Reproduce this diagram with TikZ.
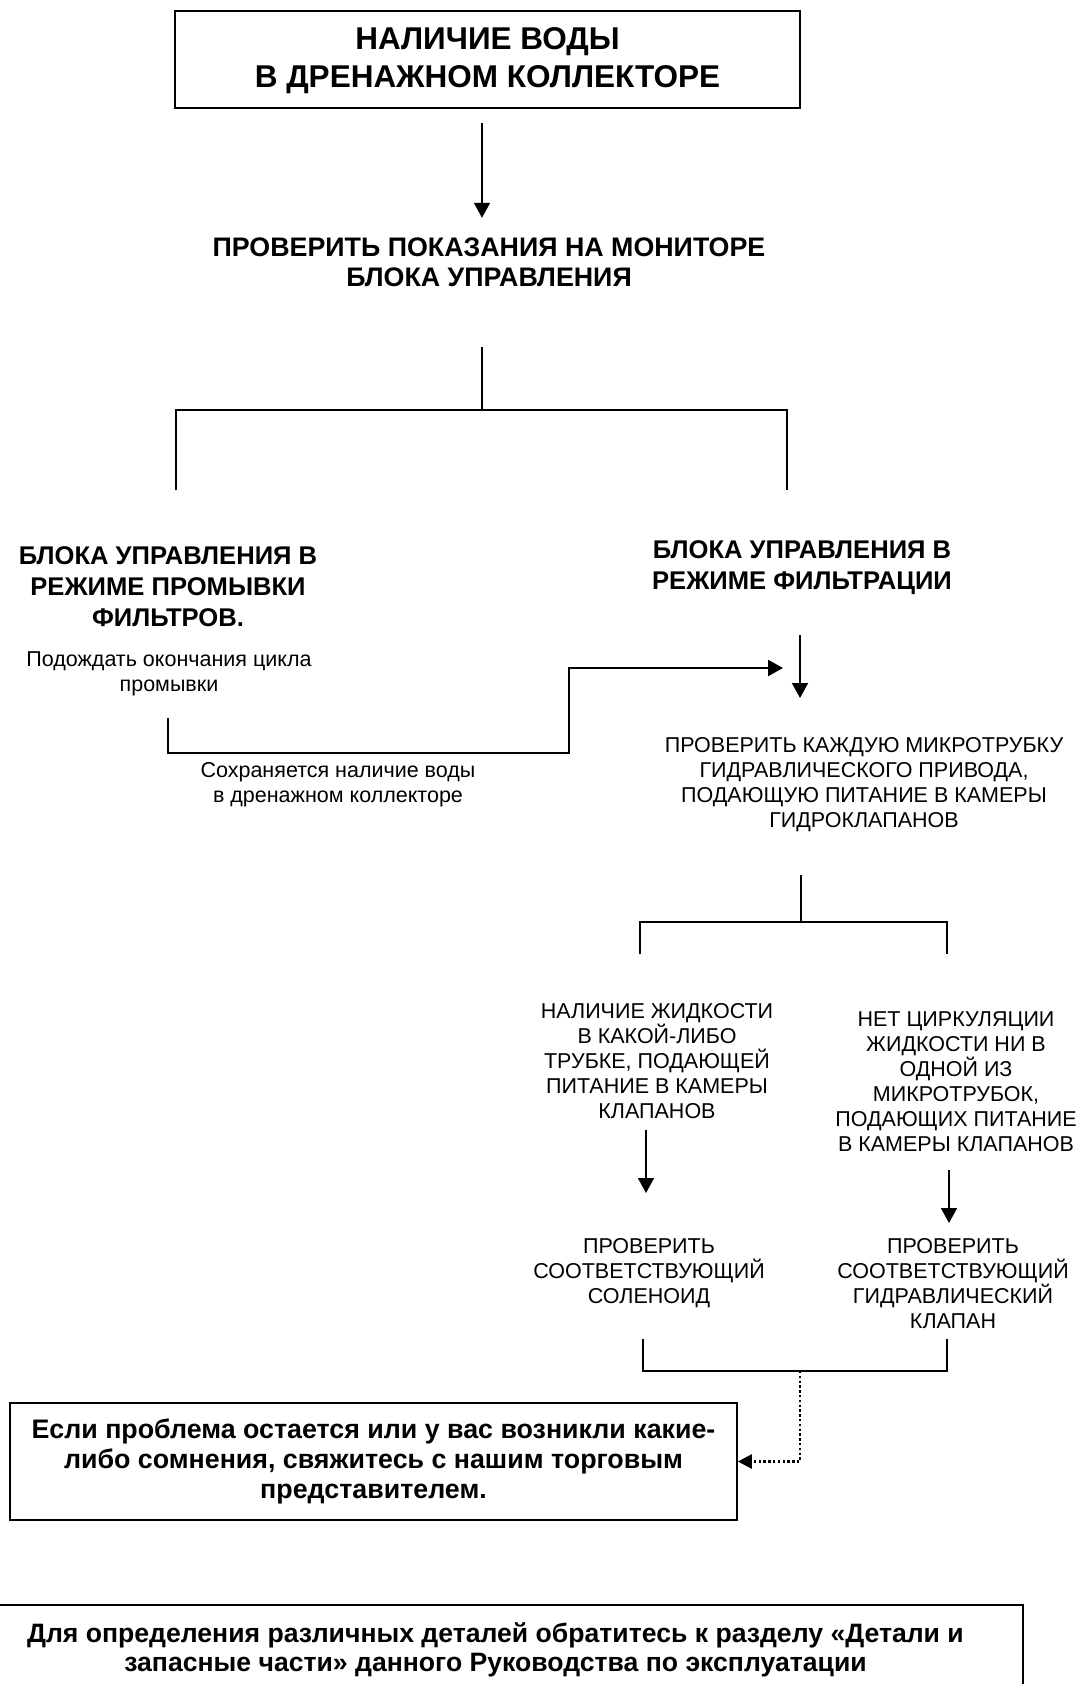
\documentclass[tikz,border=0pt]{standalone}
\usepackage{fontspec}
\setmainfont{Liberation Sans}
\usetikzlibrary{positioning,arrows.meta}

\begin{document}
\begin{tikzpicture}[x=1pt,y=-1pt,line width=1.6pt,
	big/.style={font=\bfseries\fontsize{31.5}{38}\selectfont,align=center,inner sep=0pt},
	bold/.style={font=\bfseries\fontsize{26.8}{30}\selectfont,align=center,inner sep=0pt},
	head/.style={font=\bfseries\fontsize{25.6}{31}\selectfont,align=center,inner sep=0pt},
	txt/.style={font=\fontsize{21.5}{25}\selectfont,align=center,inner sep=0pt},
	arr/.style={-{Triangle[length=15pt,width=16pt]}}]
	\useasboundingbox (0,0) rectangle (1079,1684);
	% top box
	\node[big,draw,minimum width=625,minimum height=97,text depth=3pt] (water) at (487.5,59.5) {НАЛИЧИЕ ВОДЫ\\В ДРЕНАЖНОМ КОЛЛЕКТОРЕ};
	\node[bold] (monitor) at (489,262) {ПРОВЕРИТЬ ПОКАЗАНИЯ НА МОНИТОРЕ\\БЛОКА УПРАВЛЕНИЯ};
	\draw[arr] (water.south -| 482,0) ++(0,14) -- ++(0,95);
	% first fork
	\coordinate (fork) at (482,410);
	\coordinate (forkL) at (176,410);
	\coordinate (forkR) at (787,410);
	\draw (fork) -- ++(0,-63);
	\draw (forkL) ++(0,80) -- (forkL) -- (forkR) -- ++(0,80);
	% two modes
	\node[head] (flush) at (168,587) {БЛОКА УПРАВЛЕНИЯ В\\РЕЖИМЕ ПРОМЫВКИ\\ФИЛЬТРОВ.};
	\node[head] (filter) at (802,568) {БЛОКА УПРАВЛЕНИЯ В\\РЕЖИМЕ ФИЛЬТРАЦИИ};
	\node[txt] (wait) at (169,673.5) {Подождать окончания цикла\\промывки};
	\node[txt] (still) at (338,785) {Сохраняется наличие воды\\в дренажном коллекторе};
	\coordinate (step) at (569,753);
	\draw[arr,line width=2.6pt] (wait.south -| 168,0) ++(0,22) |- (step) |- (783,668);
	\draw[arr] (800,635) -- (800,698);
	\node[txt] (tubes) at (864,785) {ПРОВЕРИТЬ КАЖДУЮ МИКРОТРУБКУ\\ГИДРАВЛИЧЕСКОГО ПРИВОДА,\\ПОДАЮЩУЮ ПИТАНИЕ В КАМЕРЫ\\ГИДРОКЛАПАНОВ};
	% second fork
	\coordinate (fork2) at (801,922);
	\draw (fork2) -- ++(0,-47);
	\draw (640,954) |- (fork2) -| (947,954);
	\node[txt] (fluid) at (657,1061.5) {НАЛИЧИЕ ЖИДКОСТИ\\В КАКОЙ-ЛИБО\\ТРУБКЕ, ПОДАЮЩЕЙ\\ПИТАНИЕ В КАМЕРЫ\\КЛАПАНОВ};
	\node[txt] (nofluid) at (956,1081.5) {НЕТ ЦИРКУЛЯЦИИ\\ЖИДКОСТИ НИ В\\ОДНОЙ ИЗ\\МИКРОТРУБОК,\\ПОДАЮЩИХ ПИТАНИЕ\\В КАМЕРЫ КЛАПАНОВ};
	\draw[arr] (646,1130) -- (646,1193);
	\draw[arr] (949,1170) -- (949,1223);
	\node[txt] (solenoid) at (649,1273) {ПРОВЕРИТЬ\\СООТВЕТСТВУЮЩИЙ\\СОЛЕНОИД};
	\node[txt] (valve) at (953,1283.5) {ПРОВЕРИТЬ\\СООТВЕТСТВУЮЩИЙ\\ГИДРАВЛИЧЕСКИЙ\\КЛАПАН};
	% join and dealer box
	\coordinate (join) at (800,1371);
	\draw (643,1339) |- (join) -| (947,1339);
	\node[bold,draw,minimum width=727,minimum height=117] (dealer) at (373.5,1461.5) {Если проблема остается или у вас возникли какие-\\либо сомнения, свяжитесь с нашим торговым\\представителем.};
	\draw[-{Triangle[length=14pt,width=14pt]},line width=2.4pt,dash pattern=on 2.4pt off 2.4pt] (join) |- (dealer.east);
	% note at the bottom
	\draw (-3,1605) -- (1023,1605) -- (1023,1720);
	\node[bold,font=\bfseries\fontsize{26.6}{29}\selectfont] (note) at (495.5,1650) {Для определения различных деталей обратитесь к разделу «Детали и\\запасные части» данного Руководства по эксплуатации};
\end{tikzpicture}
\end{document}
